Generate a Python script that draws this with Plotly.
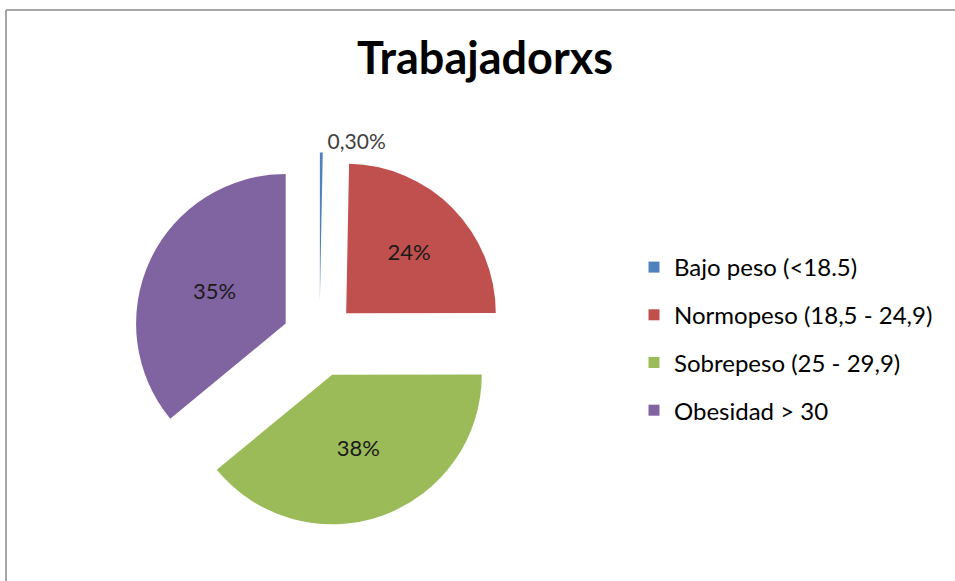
import plotly.graph_objects as go

W, H = 955, 581

categories = ["Bajo peso (<18.5)", "Normopeso (18,5 - 24,9)", "Sobrepeso (25 - 29,9)", "Obesidad > 30"]
values = [0.3, 24, 38, 35]
value_labels = ["0,30%", "24%", "38%", "35%"]
colors = ["#4F81BD", "#C0504D", "#9BBB59", "#8064A2"]

FONT = "Lato"

def px_x(p):
    return p / W

def px_y(p):
    return 1 - p / H

fig = go.Figure()

fig.add_trace(go.Pie(
    labels=categories,
    values=values,
    text=value_labels,
    textinfo="text",
    textposition=["outside", "inside", "inside", "inside"],
    insidetextorientation="horizontal",
    sort=False,
    direction="clockwise",
    rotation=0,
    pull=[0.25, 0.25, 0.25, 0.25],
    marker=dict(colors=colors, line=dict(width=0)),
    textfont=dict(family=FONT, size=22, color="#1a1a1a"),
    outsidetextfont=dict(family=FONT, size=21, color="#404040"),
    insidetextfont=dict(family=FONT, size=22, color="#1a1a1a"),
    showlegend=False,
    domain=dict(x=[px_x(132.5), px_x(506.5)], y=[px_y(527.5), px_y(151.5)]),
    hoverinfo="label+text",
))

# legend entries
for i, (cat, col) in enumerate(zip(categories, colors)):
    fig.add_trace(go.Scatter(
        x=[None], y=[None], mode="markers", name=cat,
        marker=dict(symbol="square", size=11, color=col),
        legendgroup=f"g{i}", showlegend=True,
    ))

fig.update_layout(
    width=W, height=H,
    margin=dict(l=0, r=0, t=0, b=0, autoexpand=False),
    paper_bgcolor="white",
    plot_bgcolor="white",
    xaxis=dict(visible=False),
    yaxis=dict(visible=False),
    title=dict(text="<b>Trabajadorxs</b>", x=px_x(485), xanchor="center",
               y=px_y(58), yanchor="middle",
               font=dict(family=FONT, size=45, color="#000000")),
    legend=dict(x=px_x(634), xanchor="left", y=px_y(245), yanchor="top",
                font=dict(family=FONT, size=24, color="#000000"),
                tracegroupgap=13.5, itemwidth=30, bgcolor="rgba(0,0,0,0)"),
    shapes=[
        dict(type="line", xref="paper", yref="paper",
             x0=px_x(6), y0=px_y(10), x1=1, y1=px_y(10),
             line=dict(color="#A6A6A6", width=2)),
        dict(type="line", xref="paper", yref="paper",
             x0=px_x(6), y0=px_y(10), x1=px_x(6), y1=0,
             line=dict(color="#A6A6A6", width=2)),
    ],
)

fig.write_html("out.html", config={"displayModeBar": False},
               post_script="document.body.style.margin='0';document.body.style.overflow='hidden';")
